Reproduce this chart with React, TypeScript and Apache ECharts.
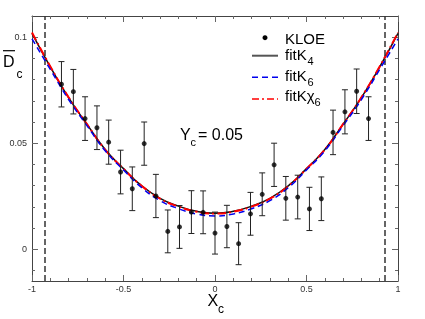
import React, { useEffect, useRef } from "react";
import * as echarts from "echarts";

const xC = [-0.839, -0.774, -0.710, -0.645, -0.581, -0.516, -0.452, -0.387, -0.323, -0.258, -0.194, -0.129, -0.065, 0, 0.065, 0.129, 0.194, 0.258, 0.323, 0.387, 0.452, 0.516, 0.581, 0.645, 0.710, 0.774, 0.839];
const kloe = [0.0778, 0.0743, 0.0616, 0.0573, 0.0505, 0.0364, 0.0285, 0.0498, 0.0251, 0.0084, 0.0105, 0.0175, 0.0174, 0.0076, 0.0107, 0.0026, 0.0167, 0.0259, 0.0398, 0.0240, 0.0246, 0.0190, 0.0238, 0.0551, 0.0648, 0.0745, 0.0616];
const kloeErr = [0.0107, 0.0105, 0.0103, 0.0103, 0.0104, 0.0103, 0.0103, 0.0102, 0.0102, 0.0101, 0.0101, 0.0101, 0.0101, 0.0099, 0.0100, 0.0099, 0.0101, 0.0101, 0.0102, 0.0103, 0.0103, 0.0102, 0.0103, 0.0105, 0.0104, 0.0105, 0.0103];

const xFit = [-1, -0.9, -0.8, -0.7, -0.6, -0.5, -0.4, -0.3, -0.2, -0.1, 0, 0.1, 0.2, 0.3, 0.4, 0.5, 0.6, 0.7, 0.8, 0.9, 1];
const fitK4 = [0.1018, 0.0860, 0.0715, 0.0590, 0.0470, 0.0380, 0.0299, 0.0240, 0.0203, 0.0179, 0.0170, 0.0179, 0.0203, 0.0240, 0.0299, 0.0380, 0.0470, 0.0590, 0.0715, 0.0860, 0.1018];
const fitK6 = [0.0992, 0.0848, 0.0706, 0.0583, 0.0464, 0.0374, 0.0290, 0.0229, 0.0191, 0.0166, 0.0157, 0.0166, 0.0191, 0.0229, 0.0290, 0.0374, 0.0464, 0.0583, 0.0706, 0.0848, 0.0992];
const fitKchi6 = [0.1022, 0.0862, 0.0716, 0.0590, 0.0469, 0.0379, 0.0298, 0.0238, 0.0201, 0.0177, 0.0168, 0.0177, 0.0201, 0.0238, 0.0298, 0.0379, 0.0469, 0.0590, 0.0716, 0.0862, 0.1022];

const cutX = [-0.93, 0.93];
const yMajor = [0, 0.05, 0.1];
const yMinor = [-0.01, 0.01, 0.02, 0.03, 0.04, 0.06, 0.07, 0.08, 0.09];

const FONT = "'Liberation Sans', Arial, sans-serif";

export default function App() {
  const ref = useRef<HTMLDivElement>(null);
  useEffect(() => {
    if (!ref.current) return;
    const chart = echarts.init(ref.current, null, { renderer: "svg" });
    const frame = "#444";
    const tickC = "#666";
    const yMin = -0.015, yMax = 0.11;
    const xBase = (pos: string, labels: boolean) => ({
      type: "value", position: pos, min: -1, max: 1, interval: 0.5,
      axisLine: { show: true, onZero: false, lineStyle: { color: frame, width: 1 } },
      axisTick: { show: true, inside: true, length: 6, lineStyle: { color: tickC } },
      minorTick: { show: true, splitNumber: 5, length: 3, lineStyle: { color: tickC } },
      splitLine: { show: false },
      axisLabel: { show: labels, fontSize: 9, color: "#333", margin: 3, fontFamily: FONT },
    });
    const yBase = (pos: string, major: boolean, labels: boolean) => ({
      type: "value", position: pos, min: yMin, max: yMax,
      axisLine: { show: major, onZero: false, lineStyle: { color: frame, width: 1 } },
      axisTick: { show: true, inside: true, length: major ? 6 : 3, customValues: major ? yMajor : yMinor, lineStyle: { color: tickC } },
      splitLine: { show: false },
      axisLabel: { show: labels, customValues: yMajor, fontSize: 9, color: "#333", margin: 5, fontFamily: FONT },
    });
    const errStyle = { stroke: "#222", lineWidth: 1 };
    chart.setOption({
      animation: false,
      grid: { left: 32, top: 16, right: 27, bottom: 38 },
      xAxis: [xBase("bottom", true), xBase("top", false)],
      yAxis: [yBase("left", true, true), yBase("left", false, false), yBase("right", true, false), yBase("right", false, false)],
      series: [
        {
          type: "line", data: xFit.map((x, i) => [x, fitK4[i]]), smooth: true, symbol: "none",
          lineStyle: { color: "#111", width: 1.5 }, z: 3,
          markLine: {
            silent: true, symbol: "none", label: { show: false },
            lineStyle: { color: "#333", width: 1.5, type: [6, 3] },
            data: cutX.map((v) => ({ xAxis: v })),
          },
        },
        {
          type: "line", data: xFit.map((x, i) => [x, fitKchi6[i]]), smooth: true, symbol: "none",
          lineStyle: { color: "#ff0000", width: 2, type: [9, 3, 2, 3] }, z: 4,
        },
        {
          type: "line", data: xFit.map((x, i) => [x, fitK6[i]]), smooth: true, symbol: "none",
          lineStyle: { color: "#0000ee", width: 1.5, type: [6, 4] }, z: 5,
        },
        {
          type: "custom", z: 6,
          data: xC.map((x, i) => [x, kloe[i], kloeErr[i]]),
          renderItem: (params: any, api: any) => {
            const x = api.value(0), y = api.value(1), e = api.value(2);
            const t = api.coord([x, y + e]);
            const b = api.coord([x, y - e]);
            const w = 3;
            return {
              type: "group",
              children: [
                { type: "line", shape: { x1: t[0], y1: t[1], x2: b[0], y2: b[1] }, style: errStyle },
                { type: "line", shape: { x1: t[0] - w, y1: t[1], x2: t[0] + w, y2: t[1] }, style: errStyle },
                { type: "line", shape: { x1: b[0] - w, y1: b[1], x2: b[0] + w, y2: b[1] }, style: errStyle },
              ],
            };
          },
        },
        {
          type: "scatter", data: xC.map((x, i) => [x, kloe[i]]), symbol: "circle", symbolSize: 5,
          itemStyle: { color: "#000" }, z: 7,
        },
      ],
      graphic: [
        // y-axis title
        { type: "line", shape: { x1: 3, y1: 50.7, x2: 15, y2: 50.7 }, style: { stroke: "#000", lineWidth: 1.2 } },
        { type: "text", x: 3, y: 61, style: { text: "D", font: `16px ${FONT}`, fill: "#000", textVerticalAlign: "middle" } },
        { type: "text", x: 16.5, y: 73.5, style: { text: "c", font: `12px ${FONT}`, fill: "#000", textVerticalAlign: "middle" } },
        // x-axis title
        { type: "text", x: 207.5, y: 300.5, style: { text: "X", font: `16px ${FONT}`, fill: "#000", textVerticalAlign: "middle" } },
        { type: "text", x: 218, y: 309, style: { text: "c", font: `12px ${FONT}`, fill: "#000", textVerticalAlign: "middle" } },
        // Yc annotation
        { type: "text", x: 180, y: 134, style: { text: "Y", font: `16px ${FONT}`, fill: "#000", textVerticalAlign: "middle" } },
        { type: "text", x: 190.5, y: 142, style: { text: "c", font: `11px ${FONT}`, fill: "#000", textVerticalAlign: "middle" } },
        { type: "text", x: 198, y: 134, style: { text: "= 0.05", font: `16px ${FONT}`, fill: "#000", textVerticalAlign: "middle" } },
        // legend
        { type: "circle", shape: { cx: 265, cy: 37.7, r: 2.5 }, style: { fill: "#000" } },
        { type: "line", shape: { x1: 252, y1: 55.7, x2: 278, y2: 55.7 }, style: { stroke: "#555", lineWidth: 2 } },
        { type: "line", shape: { x1: 252, y1: 77.3, x2: 278, y2: 77.3 }, style: { stroke: "#0000ee", lineWidth: 1.5, lineDash: [6, 4] } },
        { type: "line", shape: { x1: 252, y1: 99, x2: 278, y2: 99 }, style: { stroke: "#ff0000", lineWidth: 1.5, lineDash: [7, 3, 2, 3] } },
        { type: "text", x: 285, y: 38.5, style: { text: "KLOE", font: `15px ${FONT}`, fill: "#000", textVerticalAlign: "middle" } },
        { type: "text", x: 285, y: 54.5, style: { text: "fitK", font: `15px ${FONT}`, fill: "#000", textVerticalAlign: "middle" } },
        { type: "text", x: 307.5, y: 61, style: { text: "4", font: `11px ${FONT}`, fill: "#000", textVerticalAlign: "middle" } },
        { type: "text", x: 285, y: 75, style: { text: "fitK", font: `15px ${FONT}`, fill: "#000", textVerticalAlign: "middle" } },
        { type: "text", x: 307.5, y: 81.5, style: { text: "6", font: `11px ${FONT}`, fill: "#000", textVerticalAlign: "middle" } },
        { type: "text", x: 285, y: 95.5, style: { text: "fitKχ", font: `15px ${FONT}`, fill: "#000", textVerticalAlign: "middle" } },
        { type: "text", x: 314.5, y: 102, style: { text: "6", font: `11px ${FONT}`, fill: "#000", textVerticalAlign: "middle" } },
      ],
    });
    return () => chart.dispose();
  }, []);
  return <div ref={ref} style={{ position: "fixed", left: 0, top: 0, width: 425, height: 319 }} />;
}
